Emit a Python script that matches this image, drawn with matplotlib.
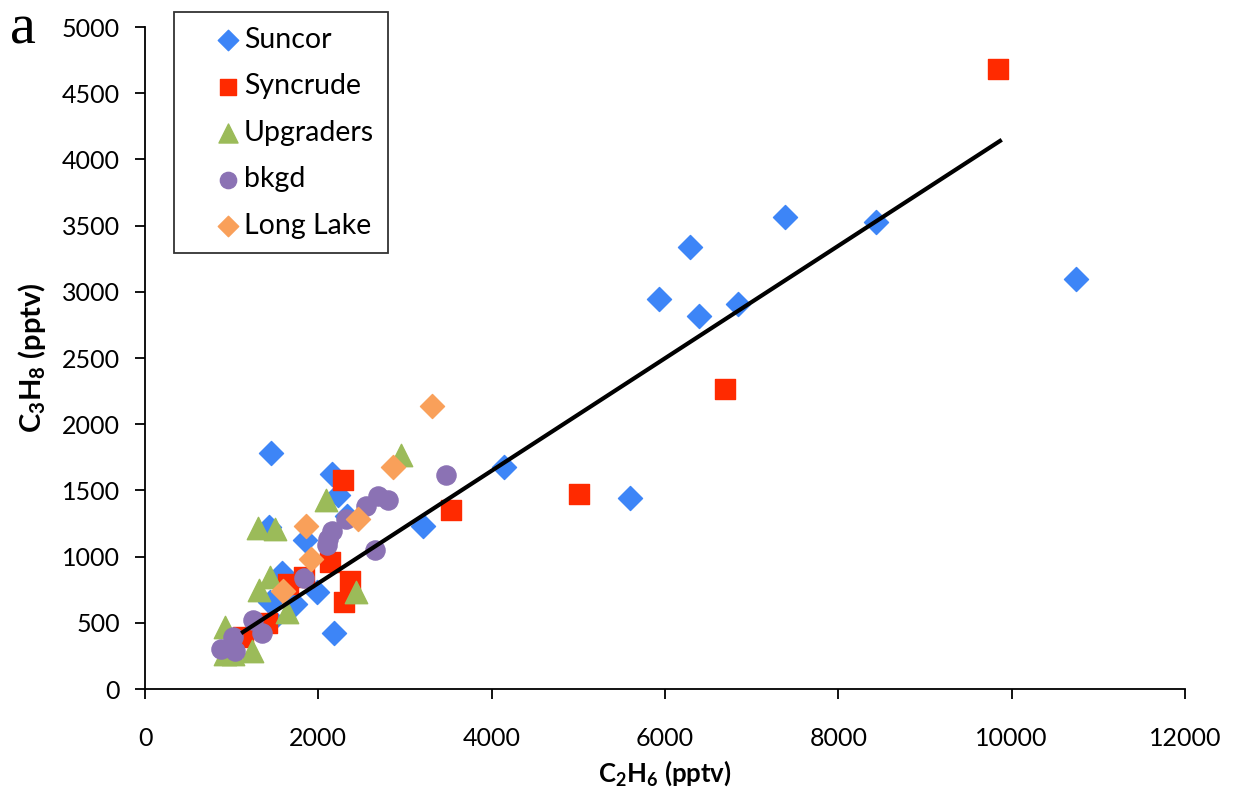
import matplotlib.pyplot as plt
from matplotlib.legend_handler import HandlerPathCollection

plt.rcParams['font.family'] = ['Lato', 'DejaVu Sans']
plt.rcParams['mathtext.fontset'] = 'custom'
plt.rcParams['mathtext.rm'] = 'Lato'
plt.rcParams['mathtext.bf'] = 'Lato:bold'

# C2H6 (x) and C3H8 (y) in pptv
suncor_x = [10740, 8430, 7385, 6290, 5930, 6390, 6840, 5600, 4140, 3210,
            1455, 2155, 2230, 2330, 1425, 1845, 1575, 1980, 1440, 1730, 1460, 2175]
suncor_y = [3100, 3525, 3565, 3335, 2945, 2815, 2905, 1445, 1675, 1230,
            1780, 1625, 1465, 1310, 1225, 1125, 880, 735, 660, 645, 520, 420]

syncrude_x = [9840, 6690, 5010, 3530, 2285, 2130, 2365, 2295, 1655, 1830, 1405, 1135]
syncrude_y = [4680, 2265, 1470, 1355, 1575, 960, 815, 660, 795, 845, 495, 395]

upgraders_x = [2955, 2090, 1300, 1500, 1445, 1310, 2430, 1640, 925, 1230, 925, 1010]
upgraders_y = [1770, 1425, 1215, 1210, 845, 750, 735, 585, 465, 290, 265, 265]

bkgd_x = [3475, 2690, 2805, 2545, 2315, 2155, 2115, 2095, 2655, 1830, 1250, 1345, 1020, 875, 1040]
bkgd_y = [1615, 1460, 1430, 1380, 1285, 1190, 1135, 1090, 1050, 840, 520, 420, 395, 300, 290]

longlake_x = [3310, 2860, 2460, 1860, 1915, 1590]
longlake_y = [2135, 1675, 1285, 1230, 980, 740]

# linear fit shown as the black line
fit_slope = 0.4247
fit_intercept = -50
fit_x = [1130, 9865]

fig = plt.figure(figsize=(12.33, 7.95), dpi=100)
ax = fig.add_axes([0.1176, 0.1333, 0.8435, 0.8327])

ax.scatter(suncor_x, suncor_y, marker='D', s=150, color='#3d85f7', label='Suncor', zorder=3)
ax.scatter(syncrude_x, syncrude_y, marker='s', s=190, color='#ff2a00', label='Syncrude', zorder=3)
ax.scatter(upgraders_x, upgraders_y, marker='^', s=260, color='#9bbb59', label='Upgraders', zorder=3)
ax.scatter(bkgd_x, bkgd_y, marker='o', s=190, color='#8b72b4', label='bkgd', zorder=3)
ax.scatter(longlake_x, longlake_y, marker='D', s=150, color='#f9a05a', label='Long Lake', zorder=3)

ax.plot(fit_x, [fit_slope * v + fit_intercept for v in fit_x], color='black', lw=3, zorder=4)

ax.set_xlim(0, 12000)
ax.set_ylim(0, 5000)
ax.set_xticks(range(0, 12001, 2000))
ax.set_yticks(range(0, 5001, 500))
ax.spines['top'].set_visible(False)
ax.spines['right'].set_visible(False)
ax.spines['left'].set_linewidth(1.3)
ax.spines['bottom'].set_linewidth(1.3)
ax.tick_params(labelsize=18, length=7, width=1.3, direction='out')
ax.tick_params(axis='x', pad=20)
ax.tick_params(axis='y', pad=11)

ax.set_xlabel('C$_\\mathbf{2}$H$_\\mathbf{6}$ (pptv)', fontsize=18.5, fontweight='bold', labelpad=6)
ax.set_ylabel('C$_\\mathbf{3}$H$_\\mathbf{8}$ (pptv)', fontsize=21, fontweight='bold', labelpad=10)

hmap = {h: HandlerPathCollection(xpad=0.95) for h in ax.collections}
leg = ax.legend(loc='upper left', bbox_to_anchor=(0.028, 1.022), fontsize=20.5,
                frameon=True, fancybox=False, edgecolor='black', borderpad=0.5,
                labelspacing=0.72, handlelength=1.85, handletextpad=0.1, borderaxespad=0,
                scatterpoints=1, markerscale=0.85, handler_map=hmap)
leg.get_frame().set_linewidth(1.3)

fig.text(0.008, 0.995, 'a', fontsize=42, family='Liberation Serif', va='top')

fig.savefig('out.png', dpi=100)
